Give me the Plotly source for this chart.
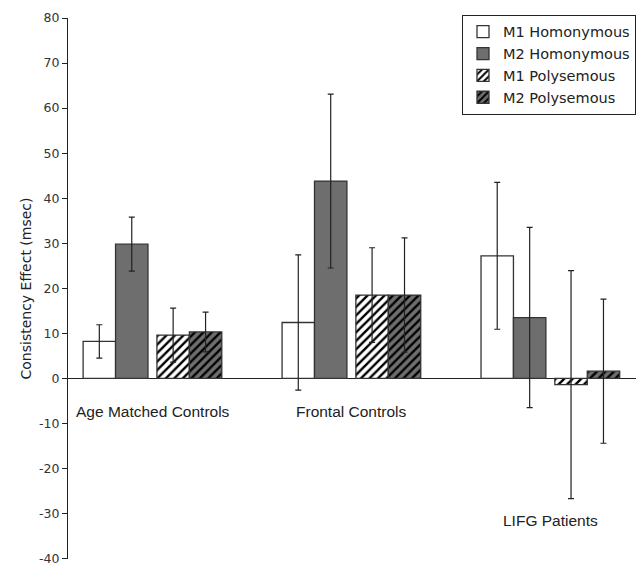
import plotly.graph_objects as go

groups = ["Age Matched Controls", "Frontal Controls", "LIFG Patients"]
series = ["M1 Homonymous", "M2 Homonymous", "M1 Polysemous", "M2 Polysemous"]
m1_hom = [8.2, 12.4, 27.2]
m1_hom_err = [3.7, 15.0, 16.3]
m2_hom = [29.8, 43.8, 13.5]
m2_hom_err = [6.0, 19.3, 20.0]
m1_poly = [9.6, 18.5, -1.4]
m1_poly_err = [6.0, 10.5, 25.3]
m2_poly = [10.3, 18.5, 1.6]
m2_poly_err = [4.4, 12.7, 16.0]
label_y = [-7.3, -7.3, -31.6]
y_ticks = [-40, -30, -20, -10, 0, 10, 20, 30, 40, 50, 60, 70, 80]
y_tick_text = ["-40", "-30", "-20", "-10", "0", "10", "20", "30", "40", "50", "60", "70", "80"]

xs = [0, 1, 2]
bw = 0.163
offsets = [-0.349, -0.186, 0.022, 0.185]
values = [m1_hom, m2_hom, m1_poly, m2_poly]
errs = [m1_hom_err, m2_hom_err, m1_poly_err, m2_poly_err]
fills = ["white", "#6e6e6e", "white", "#6e6e6e"]
patterns = ["", "", "/", "/"]

fig = go.Figure()
for name, v, e, fc, pat, off in zip(series, values, errs, fills, patterns, offsets):
    marker = dict(color=fc, line=dict(color="#333333", width=1.3))
    if pat:
        marker["pattern"] = dict(shape=pat, fgcolor="#000000", bgcolor=fc, fgopacity=1,
                                 size=6, solidity=0.4, fillmode="replace")
    fig.add_trace(go.Bar(
        x=xs, y=v, name=name, width=bw, offset=off,
        marker=marker,
        error_y=dict(type="data", array=e, color="#222222", thickness=1.2, width=3),
    ))

for gx, g, ly in zip(xs, groups, label_y):
    fig.add_annotation(x=gx, y=ly, text=g, showarrow=False,
                       font=dict(family="Liberation Sans, Arial", size=15.5, color="#222"),
                       xanchor="center", yanchor="middle")

fig.update_layout(
    width=636, height=568,
    margin=dict(l=68, r=0, t=18, b=9),
    plot_bgcolor="white", paper_bgcolor="white",
    showlegend=True,
    barmode="overlay",
    legend=dict(x=1.0, y=1.006, xanchor="right", yanchor="top",
                bordercolor="#222", borderwidth=1, bgcolor="white",
                font=dict(family="DejaVu Sans, Verdana", size=14.5, color="#222"),
                itemwidth=30, tracegroupgap=0),
    xaxis=dict(range=[-0.425, 2.43], showticklabels=False, showgrid=False,
               zeroline=False, showline=False, ticks=""),
    yaxis=dict(range=[-40.1, 80], tickvals=y_ticks, ticktext=y_tick_text, showgrid=False,
               zeroline=True, zerolinecolor="#222", zerolinewidth=1.2,
               showline=True, linecolor="#222", linewidth=1.2,
               ticks="outside", ticklen=5, tickcolor="#222", automargin=False,
               ticklabeloverflow="allow",
               tickfont=dict(family="DejaVu Sans, Verdana", size=12.5, color="#333"),
               title=dict(text="Consistency Effect (msec)",
                          font=dict(family="DejaVu Sans, Verdana", size=14, color="#222"),
                          standoff=4)),
)

fig.write_html("out.html")
